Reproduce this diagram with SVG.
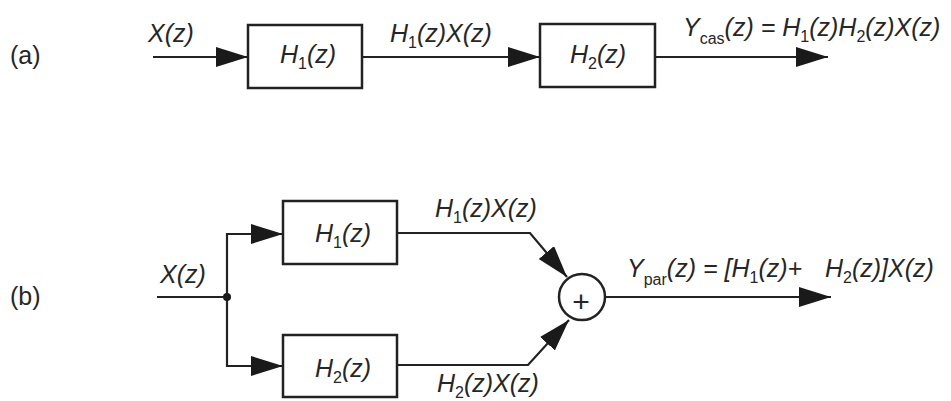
<svg xmlns="http://www.w3.org/2000/svg" width="951" height="401" viewBox="0 0 951 401">
<style>
.bg{fill:#ffffff}
.box{fill:#ffffff;stroke:#222;stroke-width:2.5}
.wire{fill:none;stroke:#222;stroke-width:2.2}
.lbl{font-family:"Liberation Sans",Arial,sans-serif;font-size:25px;font-style:italic;fill:#262626}
.up{font-family:"Liberation Sans",Arial,sans-serif;font-size:25px;fill:#262626}
.sub{font-size:16px;font-style:normal}
</style>
<defs>
<marker id="ah" markerUnits="userSpaceOnUse" markerWidth="33" markerHeight="21" refX="32" refY="10" orient="auto" viewBox="0 0 33 21">
<path d="M0,0 L32,10 L0,20 Z" fill="#1a1a1a"/>
</marker>
</defs>
<rect class="bg" x="0" y="0" width="951" height="401"/>

<text class="up" x="10" y="64">(a)</text>
<text class="up" x="10" y="305">(b)</text>

<g id="connectors">
<line class="wire" x1="153" y1="57" x2="248" y2="57" marker-end="url(#ah)"/>
<line class="wire" x1="362" y1="57" x2="540" y2="57" marker-end="url(#ah)"/>
<line class="wire" x1="655" y1="57" x2="828" y2="57" marker-end="url(#ah)"/>
<line class="wire" x1="157" y1="297" x2="227" y2="297"/>
<polyline class="wire" points="227,297 227,234 283,234" marker-end="url(#ah)"/>
<polyline class="wire" points="227,297 227,366 283,366" marker-end="url(#ah)"/>
<polyline class="wire" points="397,233 530,233 567,277" marker-end="url(#ah)"/>
<polyline class="wire" points="397,365 528,365 569,320" marker-end="url(#ah)"/>
<line class="wire" x1="605" y1="297" x2="831" y2="297" marker-end="url(#ah)"/>
<circle cx="227" cy="297" r="4" fill="#1a1a1a"/>
</g>

<g id="a-H1">
<rect class="box" x="248" y="25" width="114" height="63"/>
<text class="lbl" x="280" y="63">H<tspan class="sub" dy="6">1</tspan><tspan dy="-6">(z)</tspan></text>
</g>
<g id="a-H2">
<rect class="box" x="540" y="24" width="115" height="63"/>
<text class="lbl" x="570" y="63">H<tspan class="sub" dy="6">2</tspan><tspan dy="-6">(z)</tspan></text>
</g>
<g id="b-H1">
<rect class="box" x="283" y="201" width="114" height="63"/>
<text class="lbl" x="315" y="242">H<tspan class="sub" dy="6">1</tspan><tspan dy="-6">(z)</tspan></text>
</g>
<g id="b-H2">
<rect class="box" x="283" y="335" width="114" height="62"/>
<text class="lbl" x="315" y="377">H<tspan class="sub" dy="6">2</tspan><tspan dy="-6">(z)</tspan></text>
</g>
<g id="b-sum">
<circle cx="582" cy="297" r="23" fill="#fff" stroke="#222" stroke-width="2.5"/>
<text class="up" style="font-size:30px" x="581" y="312" text-anchor="middle">+</text>
</g>

<g id="labels">
<text class="lbl" x="148" y="42">X(z)</text>
<text class="lbl" x="390" y="42">H<tspan class="sub" dy="6">1</tspan><tspan dy="-6">(z)X(z)</tspan></text>
<text class="lbl" x="683" y="36">Y<tspan class="sub" dy="8">cas</tspan><tspan dy="-8">(z) = H</tspan><tspan class="sub" dy="6">1</tspan><tspan dy="-6">(z)H</tspan><tspan class="sub" dy="6">2</tspan><tspan dy="-6">(z)X(z)</tspan></text>
<text class="lbl" x="160" y="283">X(z)</text>
<text class="lbl" x="435" y="217">H<tspan class="sub" dy="6">1</tspan><tspan dy="-6">(z)X(z)</tspan></text>
<text class="lbl" x="437" y="392">H<tspan class="sub" dy="6">2</tspan><tspan dy="-6">(z)X(z)</tspan></text>
<text class="lbl" x="627" y="277">Y<tspan class="sub" dy="8">par</tspan><tspan dy="-8">(z) = [H</tspan><tspan class="sub" dy="6">1</tspan><tspan dy="-6">(z)+ </tspan><tspan x="825">H</tspan><tspan class="sub" dy="6">2</tspan><tspan dy="-6">(z)]X(z)</tspan></text>
</g>
</svg>
